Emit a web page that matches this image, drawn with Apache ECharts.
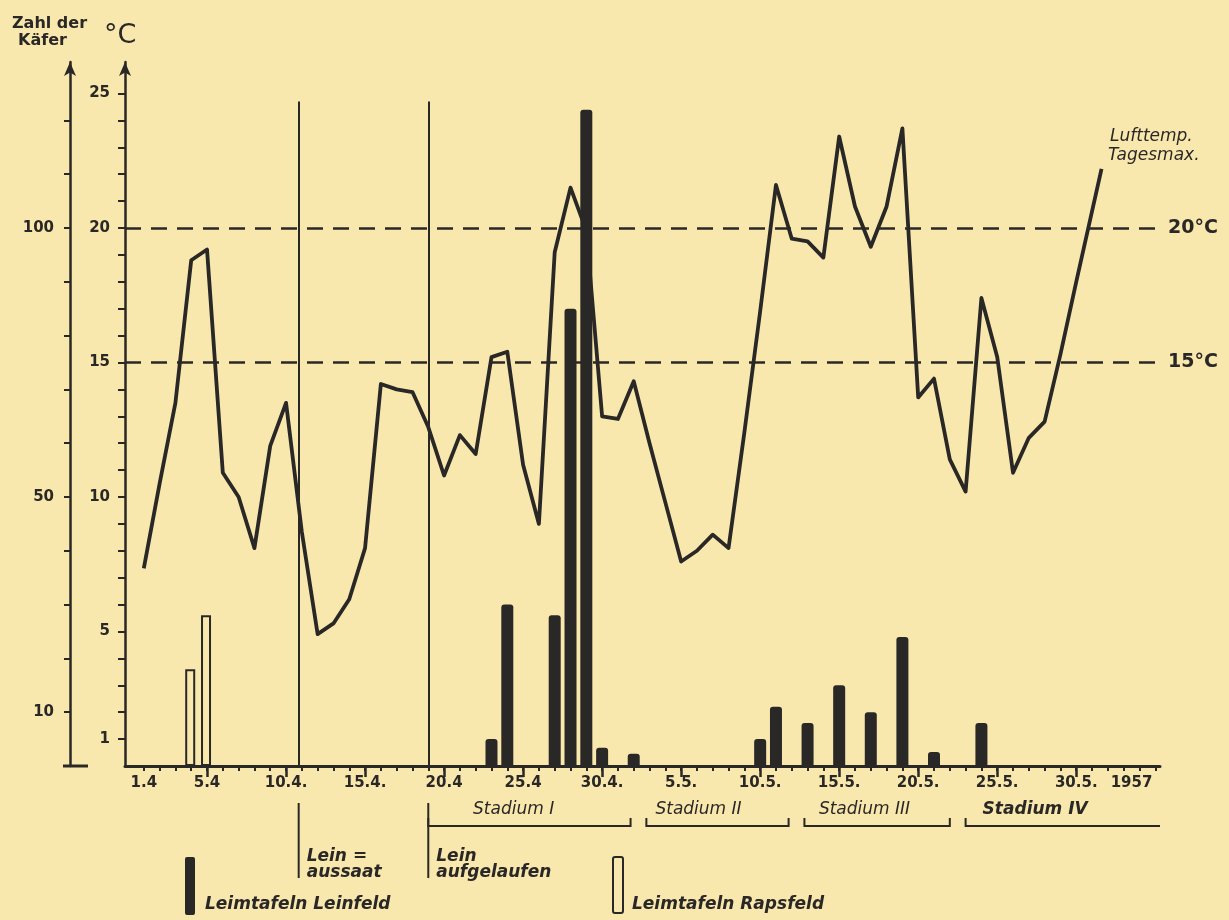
<!DOCTYPE html>
<html><head><meta charset="utf-8">
<script src="https://cdn.jsdelivr.net/npm/echarts@6/dist/echarts.min.js"></script>
<style>html,body{margin:0;padding:0;background:#F9E8AE;}#c{width:1229px;height:920px;}</style>
</head><body><div id="c"></div>
<script>
// day index: 0 = 1.4.1957
const tempDays = [0,1,2,3,4,5,6,7,8,9,10,11,12,13,14,15,16,17,18,19,20,21,22,23,24,25,26,27,28,29,30,31,32,33,34,35,36,37,38,39,40,41,42,43,44,45,46,47,48,49,50,51,52,53,54,55,56,57,58,59,60.6];
const tempValues = [7.35,10.5,13.5,18.8,19.2,10.9,10.0,8.1,11.9,13.5,8.7,4.9,5.3,6.2,8.1,14.2,14.0,13.9,12.6,10.8,12.3,11.6,15.2,15.4,11.2,9.0,19.1,21.5,19.9,13.0,12.9,14.3,12.0,9.8,7.6,8.0,8.6,8.1,12.4,16.9,21.6,19.6,19.5,18.9,23.4,20.8,19.3,20.8,23.7,13.7,14.4,11.4,10.2,17.4,15.2,10.9,12.2,12.8,15.3,18.0,22.2];
const leinDays = [22,23,26,27,28,29,31,39,40,42,44,46,48,50,53];
const leinCounts = [5,30,28,85,122,3.4,2.3,5,11,8,15,10,24,2.6,8];
const rapsDays = [3,4];
const rapsCounts = [18,28];
const tickDays = [0,4,9,14,19,24,29,34,39,44,49,54,59,62.5];
const tickLabels = ['1.4','5.4','10.4.','15.4.','20.4','25.4','30.4.','5.5.','10.5.','15.5.','20.5.','25.5.','30.5.','1957'];
const majorTickDays = [4,9,14,19,24,29,34,39,44,49,54,59];
const tempTickLabels = [1,5,10,15,20,25];
const countTickLabels = [10,50,100];
const refTemps = [20,15];
const refLabels = ['20°C','15°C'];
const eventDays = [9.8,18];
const eventTopTemp = 24.7;
const eventNames = [['Lein =','aussaat'],['Lein','aufgelaufen']];
const stageNames = ['Stadium I','Stadium II','Stadium III','Stadium IV'];
const stageStart = [18,31.8,41.8,52];
const stageEnd = [30.8,40.8,51,64.3];
const stageLabelDays = [23.4,35.1,45.6,56.4];

const ink = '#2a2826';
const paper = '#F9E8AE';
const minorTicks = []; for (let d = 0; d <= 64; d++) minorTicks.push(d);
const tempTicks = []; for (let t = 1; t <= 25; t++) tempTicks.push(t);
const countTicks = []; for (let c = 10; c <= 120; c += 10) countTicks.push(c);
const lblFont = {color: ink, fontFamily: 'DejaVu Sans', fontWeight: 'bold', fontSize: 15};

const chart = echarts.init(document.getElementById('c'));
chart.setOption({
  backgroundColor: paper,
  animation: false,
  grid: {left: 125, right: 69, top: 62, bottom: 154, outerBoundsMode: 'none'},
  xAxis: [
    {type: 'value', min: -1.19, max: 64.3, position: 'bottom',
     axisLine: {show: true, onZero: false, lineStyle: {color: ink, width: 3}},
     axisTick: {show: true, customValues: minorTicks, length: 5, lineStyle: {color: ink, width: 2}},
     axisLabel: {show: false}, splitLine: {show: false}},
    {type: 'value', min: -1.19, max: 64.3, position: 'bottom',
     axisLine: {show: false, onZero: false},
     axisTick: {show: true, customValues: majorTickDays, length: 11, lineStyle: {color: ink, width: 2.5}},
     axisLabel: Object.assign({customValues: tickDays, margin: 10,
       formatter: v => { const i = tickDays.indexOf(v); return i >= 0 ? tickLabels[i] : ''; }}, lblFont),
     splitLine: {show: false}}
  ],
  yAxis: [
    {type: 'value', min: 0, max: 26.17, position: 'left',
     axisLine: {show: true, onZero: false, symbol: ['none', 'arrow'], symbolSize: [9, 14], lineStyle: {color: ink, width: 2.5}},
     axisTick: {show: true, customValues: tempTicks, length: 7, lineStyle: {color: ink, width: 2}},
     axisLabel: Object.assign({customValues: tempTickLabels, margin: 15}, lblFont),
     splitLine: {show: false}},
    {type: 'value', min: 0, max: 130.86, position: 'left', offset: 55,
     axisLine: {show: true, onZero: false, symbol: ['none', 'arrow'], symbolSize: [9, 14], lineStyle: {color: ink, width: 2.5}},
     axisTick: {show: true, customValues: countTicks, length: 6, lineStyle: {color: ink, width: 2}},
     axisLabel: Object.assign({customValues: countTickLabels, margin: 16}, lblFont),
     splitLine: {show: false}}
  ],
  series: [
    {name: 'Leimtafeln Rapsfeld', type: 'bar', xAxisIndex: 0, yAxisIndex: 1, barWidth: 10, barGap: '-100%',
     data: rapsDays.map((d, i) => [d, rapsCounts[i]]),
     itemStyle: {color: paper, borderColor: ink, borderWidth: 2}, z: 2},
    {name: 'Leimtafeln Leinfeld', type: 'bar', xAxisIndex: 0, yAxisIndex: 1, barWidth: 12, barGap: '-100%',
     data: leinDays.map((d, i) => [d, leinCounts[i]]),
     itemStyle: {color: ink, borderRadius: [3, 3, 0, 0]}, z: 2},
    {name: 'Lufttemp. Tagesmax.', type: 'line', xAxisIndex: 0, yAxisIndex: 0, symbol: 'none',
     data: tempDays.map((d, i) => [d, tempValues[i]]),
     lineStyle: {color: ink, width: 3.8, join: 'round'}, z: 4,
     markLine: {silent: true, symbol: ['none', 'none'], animation: false,
       label: {show: true, position: 'end', distance: 8, color: ink, fontFamily: 'DejaVu Sans', fontWeight: 'bold', fontSize: 19},
       data: refTemps.map((t, i) => ({yAxis: t, lineStyle: {color: ink, type: [16, 10], width: 2.5},
                                       label: {formatter: refLabels[i]}}))
         .concat(eventDays.map(d => [
           {coord: [d, 0], lineStyle: {color: ink, type: 'solid', width: 2}, label: {show: false}},
           {coord: [d, eventTopTemp]}
         ]))
     }}
  ]
});

const px = d => chart.convertToPixel({xAxisIndex: 0}, d);
const baseY = chart.convertToPixel({yAxisIndex: 0}, 0);
const countAxisX = 125 - 55;
const g = [];
const txt = (x, y, s, opt) => g.push({type: 'text', x: x, y: y, silent: true,
  style: Object.assign({text: s, fill: ink, fontFamily: 'DejaVu Sans', fontSize: 17, fontStyle: 'italic', textVerticalAlign: 'middle'}, opt || {})});
const ln = (pts, w) => g.push({type: 'polyline', silent: true, shape: {points: pts}, style: {stroke: ink, lineWidth: w || 2, fill: null}});

// count axis foot
ln([[countAxisX - 7, baseY], [countAxisX + 18, baseY]], 3);
// axis titles
txt(12, 24, 'Zahl der', {fontWeight: 'bold', fontStyle: 'normal', fontSize: 16});
txt(18, 41, 'Käfer', {fontWeight: 'bold', fontStyle: 'normal', fontSize: 16});
txt(104, 36, '°C', {fontWeight: 'normal', fontStyle: 'normal', fontSize: 27});
// line label
txt(1110, 137, 'Lufttemp.', {fontSize: 17});
txt(1108, 156, 'Tagesmax.', {fontSize: 17});
// events below axis
eventDays.forEach((d, i) => {
  const x = px(d);
  ln([[x, baseY + 37], [x, baseY + 112]], 2);
  txt(x + 8, baseY + 91, eventNames[i][0], {fontWeight: 'bold'});
  txt(x + 8, baseY + 107, eventNames[i][1], {fontWeight: 'bold'});
});
// stages
const sy = baseY + 60;
stageNames.forEach((s, i) => {
  const xs = px(stageStart[i]), xe = px(stageEnd[i]);
  const pts = [[xs, sy - 8], [xs, sy], [xe, sy]];
  if (i < stageNames.length - 1) pts.push([xe, sy - 8]);
  ln(pts, 2);
  txt(px(stageLabelDays[i]), sy - 16, s, {textAlign: 'center', fontSize: 17, fontWeight: i === 3 ? 'bold' : 'normal'});
});
// legend
g.push({type: 'rect', silent: true, shape: {x: 185, y: 857, width: 10, height: 58, r: 2}, style: {fill: ink}});
txt(205, 905, 'Leimtafeln Leinfeld', {fontWeight: 'bold'});
g.push({type: 'rect', silent: true, shape: {x: 613, y: 857, width: 10, height: 56, r: 2}, style: {fill: paper, stroke: ink, lineWidth: 2}});
txt(632, 905, 'Leimtafeln Rapsfeld', {fontWeight: 'bold'});
chart.setOption({graphic: g});
</script>
</body></html>
